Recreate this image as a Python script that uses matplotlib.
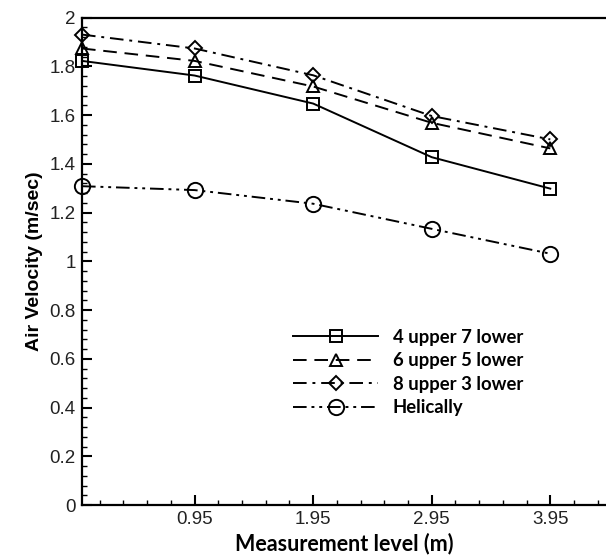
import matplotlib
matplotlib.use("Agg")
import matplotlib.pyplot as plt
import numpy as np
from matplotlib.ticker import FixedLocator, MultipleLocator, FormatStrFormatter

plt.rcParams["font.family"] = ["Liberation Sans", "DejaVu Sans"]

levels = [0.0, 0.95, 1.95, 2.95, 3.95]
upper4_lower7 = [1.822, 1.762, 1.647, 1.427, 1.298]
upper6_lower5 = [1.873, 1.822, 1.717, 1.568, 1.463]
upper8_lower3 = [1.930, 1.873, 1.763, 1.596, 1.500]
helically = [1.308, 1.292, 1.236, 1.133, 1.031]
labels = ["4 upper 7 lower", "6 upper 5 lower", "8 upper 3 lower", "Helically"]
x_major = [0.95, 1.95, 2.95, 3.95]

fig = plt.figure(figsize=(6.06, 5.56), dpi=100)
ax = fig.add_axes([0.1353, 0.0917, 0.8647, 0.8768])

lw = 1.4
styles = [
    dict(linestyle="-", marker="s"),
    dict(linestyle=(0, (7, 4)), marker="^"),
    dict(linestyle=(0, (7, 3, 1.5, 3)), marker="D"),
    dict(linestyle=(0, (7, 2.5, 1.5, 2.5, 1.5, 2.5)), marker="o"),
]
msizes = [8.5, 8.5, 7.5, 11]
for ys, lab, st, ms in zip([upper4_lower7, upper6_lower5, upper8_lower3, helically], labels, styles, msizes):
    ax.plot(levels, ys, color="black", linewidth=lw, linestyle=st["linestyle"],
            marker=st["marker"], markersize=ms,
            markerfacecolor="none", markeredgecolor="black", markeredgewidth=1.4,
            label=lab, clip_on=False, zorder=3)

ax.set_xlim(0, 4.42)
ax.set_ylim(0, 2)
ax.xaxis.set_major_locator(FixedLocator(x_major))
ax.xaxis.set_minor_locator(FixedLocator([v for v in np.arange(0.15, 4.42, 0.2)
                                         if min(abs(v - m) for m in x_major) > 1e-6]))
ax.xaxis.set_major_formatter(FormatStrFormatter("%.2f"))
ax.yaxis.set_major_locator(MultipleLocator(0.2))
ax.yaxis.set_minor_locator(MultipleLocator(0.04))
ax.yaxis.set_major_formatter(matplotlib.ticker.FuncFormatter(lambda v, p: "%g" % round(v, 2)))

ax.spines["right"].set_visible(False)
for s in ["left", "bottom", "top"]:
    ax.spines[s].set_linewidth(1.6)
ax.tick_params(which="major", direction="in", length=7.5, width=1.5, labelsize=13.5,
               labelcolor="#222222", top=False, right=False, pad=4.5)
ax.tick_params(which="minor", direction="in", length=3.8, width=1.0, top=False, right=False)

ax.set_xlabel("Measurement level (m)", fontsize=15.5, fontweight="bold", family="Lato", labelpad=3)
ax.set_ylabel("Air Velocity (m/sec)", fontsize=14, fontweight="bold", family="Liberation Sans", labelpad=5)

leg = ax.legend(loc="upper left", bbox_to_anchor=(0.403, 0.362), frameon=False,
                borderpad=0, borderaxespad=0,
                handlelength=4.6, numpoints=1, handletextpad=0.8, labelspacing=0.36,
                prop={"family": "Lato", "weight": "bold", "size": 13.3})

fig.savefig("out.png", dpi=100)
